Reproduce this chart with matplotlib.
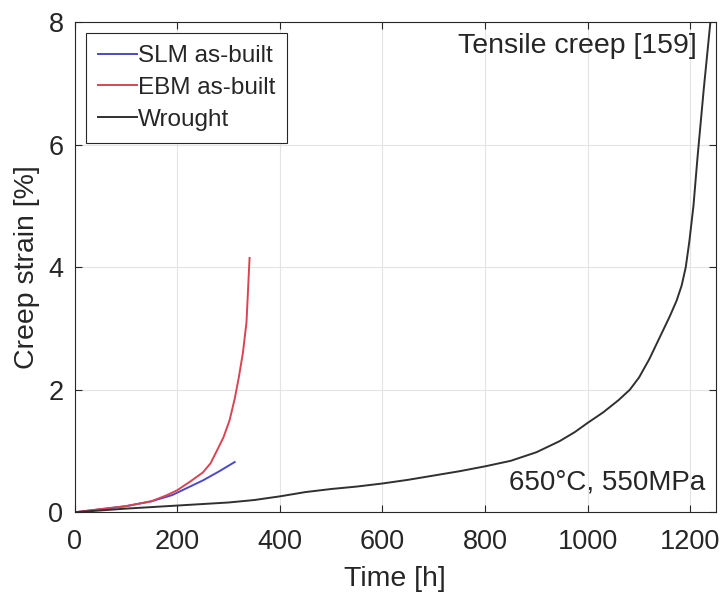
import numpy as np
import matplotlib.pyplot as plt

plt.rcParams['font.family'] = ['Liberation Sans', 'DejaVu Sans']

# creep curves, time [h] vs strain [%]
slm_time = [0, 50, 100, 150, 190, 220, 250, 280, 312]
slm_strain = [0.0, 0.05, 0.10, 0.18, 0.28, 0.40, 0.52, 0.66, 0.82]

ebm_time = [0, 50, 100, 150, 180, 200, 225, 250, 265, 277, 290, 302, 312, 320, 328, 335, 341]
ebm_strain = [0.0, 0.05, 0.10, 0.18, 0.28, 0.36, 0.50, 0.65, 0.80, 1.0, 1.22, 1.5, 1.85, 2.2, 2.6, 3.1, 4.15]

wrought_time = [0, 50, 100, 200, 300, 350, 400, 450, 500, 550, 600, 650, 700, 750, 800,
                850, 900, 945, 975, 1000, 1030, 1060, 1082, 1100, 1120, 1140, 1160, 1173,
                1183, 1191, 1198, 1206, 1214, 1226, 1239]
wrought_strain = [0.0, 0.03, 0.06, 0.11, 0.16, 0.20, 0.26, 0.33, 0.38, 0.42, 0.47, 0.53,
                  0.60, 0.67, 0.75, 0.84, 0.98, 1.16, 1.31, 1.46, 1.63, 1.83, 2.00, 2.20,
                  2.50, 2.85, 3.20, 3.45, 3.70, 4.00, 4.42, 5.00, 5.80, 6.90, 8.00]

fig = plt.figure(figsize=(7.24, 5.95), dpi=100)
ax = fig.add_axes([0.103, 0.139, 0.886, 0.824])

ax.plot(slm_time, slm_strain, color='#4a4ac8', lw=1.4, label='SLM as-built')
ax.plot(ebm_time, ebm_strain, color='#d84452', lw=1.4, label='EBM as-built')
ax.plot(wrought_time, wrought_strain, color='#303030', lw=1.4, label='Wrought')

ax.set_xlim(0, 1250)
ax.set_ylim(0, 8)
ax.set_xticks(np.arange(0, 1201, 200))
ax.set_yticks(np.arange(0, 9, 2))
ax.grid(True, color='#e4e4e4', lw=0.8)
ax.tick_params(direction='in', labelsize=19.5, colors='#262626', length=5,
               top=True, right=True)
ax.tick_params(axis='x', pad=12)
ax.tick_params(axis='y', pad=8)
for s in ax.spines.values():
    s.set_color('#262626')
    s.set_linewidth(0.8)

ax.set_xlabel('Time [h]', fontsize=20.5, color='#262626', labelpad=8)
ax.set_ylabel('Creep strain [%]', fontsize=20.5, color='#262626', labelpad=6)

ax.text(0.97, 0.978, 'Tensile creep [159]', transform=ax.transAxes,
        ha='right', va='top', fontsize=20.5, color='#262626')
ax.text(0.983, 0.035, '650°C, 550MPa', transform=ax.transAxes,
        ha='right', va='bottom', fontsize=20, color='#262626')

leg = ax.legend(loc='upper left', fontsize=17.5, handlelength=1.6, handletextpad=0.05,
                borderaxespad=0.45, borderpad=0.5, labelspacing=0.4, fancybox=False,
                framealpha=1)
leg.get_frame().set_edgecolor('#262626')
leg.get_frame().set_linewidth(0.8)
for t in leg.get_texts():
    t.set_color('#262626')

fig.savefig('out.png', dpi=100)
